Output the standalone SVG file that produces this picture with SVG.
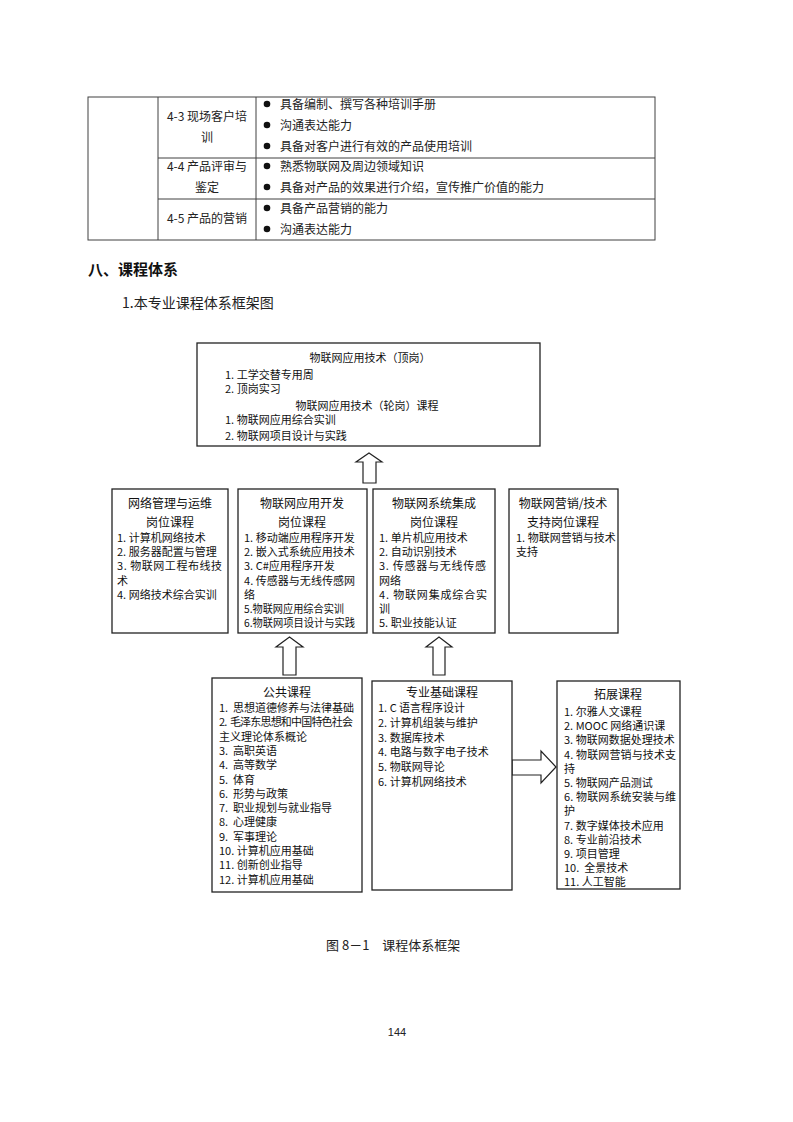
<svg xmlns="http://www.w3.org/2000/svg" width="793" height="1122" viewBox="0 0 793 1122">
<style>
.tbl{stroke:#404040;stroke-width:1;fill:none}
.t12{font-family:"Noto Sans CJK SC","Liberation Serif",serif;font-size:12px;fill:#222}
.h{font-family:"Noto Sans CJK SC","Liberation Sans",sans-serif;font-size:15px;font-weight:bold;fill:#111}
.p{font-family:"Noto Sans CJK SC","Liberation Serif",serif;font-size:14px;fill:#222}
.cap{font-family:"Noto Sans CJK SC","Liberation Serif",serif;font-size:13px;fill:#222;white-space:pre}
.box{fill:#fff;stroke:#222;stroke-width:1.3}
.t{font-family:"Noto Sans CJK SC","Liberation Sans",sans-serif;font-size:11px;fill:#111;white-space:pre}
.tt{font-family:"Noto Sans CJK SC","Liberation Sans",sans-serif;font-size:12px;fill:#111;text-anchor:middle}
.c{text-anchor:middle}
.arr{fill:#fff;stroke:#222;stroke-width:1.2;stroke-linejoin:miter}
.pg{font-family:"Liberation Sans",sans-serif;font-size:11px;fill:#222;text-anchor:middle}
</style>
<rect width="793" height="1122" fill="#fff"/>

<g id="table">
<rect class="tbl" x="88" y="97" width="567" height="143"/>
<line class="tbl" x1="158" y1="97" x2="158" y2="240"/>
<line class="tbl" x1="256" y1="97" x2="256" y2="240"/>
<line class="tbl" x1="158" y1="158" x2="655" y2="158" stroke-width="1.5"/>
<line class="tbl" x1="158" y1="199" x2="655" y2="199" stroke-width="1.5"/>
<text class="t12 c" x="207" y="120.5">4-3 现场客户培</text>
<text class="t12 c" x="207" y="141.5">训</text>
<text class="t12 c" x="207" y="170.5">4-4 产品评审与</text>
<text class="t12 c" x="207" y="191.5">鉴定</text>
<text class="t12 c" x="207" y="222.5">4-5 产品的营销</text>
<g fill="#111">
<circle cx="267" cy="104" r="3.3"/><circle cx="267" cy="125" r="3.3"/><circle cx="267" cy="146" r="3.3"/>
<circle cx="267" cy="166" r="3.3"/><circle cx="267" cy="187" r="3.3"/>
<circle cx="267" cy="208" r="3.3"/><circle cx="267" cy="229" r="3.3"/>
</g>
<text class="t12" x="280" y="108.5">具备编制、撰写各种培训手册</text>
<text class="t12" x="280" y="129.5">沟通表达能力</text>
<text class="t12" x="280" y="150.5">具备对客户进行有效的产品使用培训</text>
<text class="t12" x="280" y="170.5">熟悉物联网及周边领域知识</text>
<text class="t12" x="280" y="191.5">具备对产品的效果进行介绍，宣传推广价值的能力</text>
<text class="t12" x="280" y="212.5">具备产品营销的能力</text>
<text class="t12" x="280" y="233.5">沟通表达能力</text>
</g>

<g id="heading">
<text class="h" x="88" y="275">八、课程体系</text>
<text class="p" x="122" y="308">1.本专业课程体系框架图</text>
</g>

<g id="connectors">
<polygon class="arr" points="363,483 363,462 356,462 369,453 382,462 376,462 376,483"/>
<polygon class="arr" points="283,675 283,647 276,647 289.5,637 303,647 296,647 296,675"/>
<polygon class="arr" points="433,675 433,647 426,647 439,637 452,647 445,647 445,675"/>
<polygon class="arr" points="512,760 541,760 541,751 556,767 541,783 541,775 512,775"/>
</g>

<g id="node-top">
<rect class="box" x="197" y="343" width="343" height="103"/>
<text class="t c" x="370" y="362">物联网应用技术（顶岗）</text>
<text class="t" x="225" y="379">1. 工学交替专用周</text>
<text class="t" x="225" y="393">2. 顶岗实习</text>
<text class="t c" x="367" y="410">物联网应用技术（轮岗）课程</text>
<text class="t" x="225" y="424">1. 物联网应用综合实训</text>
<text class="t" x="225" y="440">2. 物联网项目设计与实践</text>
</g>

<g id="node-network">
<rect class="box" x="112" y="489" width="116" height="144"/>
<text class="tt" x="170" y="507.5">网络管理与运维</text>
<text class="tt" x="170" y="526.5">岗位课程</text>
<text class="t" x="117" y="542">1. 计算机网络技术</text>
<text class="t" x="117" y="556.2">2. 服务器配置与管理</text>
<text class="t" x="117" y="570.4" textLength="105" lengthAdjust="spacing">3. 物联网工程布线技</text>
<text class="t" x="117" y="584.6">术</text>
<text class="t" x="117" y="598.8">4. 网络技术综合实训</text>
</g>

<g id="node-appdev">
<rect class="box" x="238" y="489" width="129" height="144"/>
<text class="tt" x="302" y="507.5">物联网应用开发</text>
<text class="tt" x="302" y="526.5">岗位课程</text>
<text class="t" x="244" y="542">1. 移动端应用程序开发</text>
<text class="t" x="244" y="556.2">2. 嵌入式系统应用技术</text>
<text class="t" x="244" y="570.4">3. C#应用程序开发</text>
<text class="t" x="244" y="584.6" textLength="111" lengthAdjust="spacing">4. 传感器与无线传感网</text>
<text class="t" x="244" y="598.8">络</text>
<text class="t" x="244" y="613" textLength="100" lengthAdjust="spacingAndGlyphs">5.物联网应用综合实训</text>
<text class="t" x="244" y="627.2" textLength="111" lengthAdjust="spacingAndGlyphs">6.物联网项目设计与实践</text>
</g>

<g id="node-integration">
<rect class="box" x="373" y="489" width="122" height="144"/>
<text class="tt" x="434" y="507.5">物联网系统集成</text>
<text class="tt" x="434" y="526.5">岗位课程</text>
<text class="t" x="379" y="542">1. 单片机应用技术</text>
<text class="t" x="379" y="556.2">2. 自动识别技术</text>
<text class="t" x="379" y="570.4" textLength="107" lengthAdjust="spacing">3. 传感器与无线传感</text>
<text class="t" x="379" y="584.6">网络</text>
<text class="t" x="379" y="598.8" textLength="108" lengthAdjust="spacing">4. 物联网集成综合实</text>
<text class="t" x="379" y="613">训</text>
<text class="t" x="379" y="627.2">5. 职业技能认证</text>
</g>

<g id="node-marketing">
<rect class="box" x="509" y="489" width="109" height="144"/>
<text class="tt" x="563" y="507.5">物联网营销/技术</text>
<text class="tt" x="563" y="526.5">支持岗位课程</text>
<text class="t" x="516" y="542">1. 物联网营销与技术</text>
<text class="t" x="516" y="556.2">支持</text>
</g>

<g id="node-public">
<rect class="box" x="212" y="678" width="150" height="214"/>
<text class="tt" x="287" y="697">公共课程</text>
<text class="t" x="219" y="712" xml:space="preserve">1.  思想道德修养与法律基础</text>
<text class="t" x="219" y="726.3" textLength="134" lengthAdjust="spacing" xml:space="preserve">2.  毛泽东思想和中国特色社会</text>
<text class="t" x="219" y="740.6">主义理论体系概论</text>
<text class="t" x="219" y="754.9" xml:space="preserve">3.  高职英语</text>
<text class="t" x="219" y="769.2" xml:space="preserve">4.  高等数学</text>
<text class="t" x="219" y="783.5" xml:space="preserve">5.  体育</text>
<text class="t" x="219" y="797.8" xml:space="preserve">6.  形势与政策</text>
<text class="t" x="219" y="812.1" xml:space="preserve">7.  职业规划与就业指导</text>
<text class="t" x="219" y="826.4" xml:space="preserve">8.  心理健康</text>
<text class="t" x="219" y="840.7" xml:space="preserve">9.  军事理论</text>
<text class="t" x="219" y="855">10. 计算机应用基础</text>
<text class="t" x="219" y="869.3">11. 创新创业指导</text>
<text class="t" x="219" y="883.6">12. 计算机应用基础</text>
</g>

<g id="node-foundation">
<rect class="box" x="372" y="681" width="140" height="209"/>
<text class="tt" x="442" y="697">专业基础课程</text>
<text class="t" x="378" y="712">1. C 语言程序设计</text>
<text class="t" x="378" y="726.8">2. 计算机组装与维护</text>
<text class="t" x="378" y="741.6">3. 数据库技术</text>
<text class="t" x="378" y="756.4">4. 电路与数字电子技术</text>
<text class="t" x="378" y="771.2">5. 物联网导论</text>
<text class="t" x="378" y="786">6. 计算机网络技术</text>
</g>

<g id="node-extension">
<rect class="box" x="557" y="681" width="123" height="208"/>
<text class="tt" x="618" y="699">拓展课程</text>
<text class="t" x="564" y="716">1. 尔雅人文课程</text>
<text class="t" x="564" y="730.2">2. MOOC 网络通识课</text>
<text class="t" x="564" y="744.4">3. 物联网数据处理技术</text>
<text class="t" x="564" y="758.6" textLength="112" lengthAdjust="spacing">4. 物联网营销与技术支</text>
<text class="t" x="564" y="772.8">持</text>
<text class="t" x="564" y="787">5. 物联网产品测试</text>
<text class="t" x="564" y="801.2" textLength="112" lengthAdjust="spacing">6. 物联网系统安装与维</text>
<text class="t" x="564" y="815.4">护</text>
<text class="t" x="564" y="829.6">7. 数字媒体技术应用</text>
<text class="t" x="564" y="843.8">8. 专业前沿技术</text>
<text class="t" x="564" y="858">9. 项目管理</text>
<text class="t" x="564" y="872.2" xml:space="preserve">10.  全景技术</text>
<text class="t" x="564" y="886.4">11. 人工智能</text>
</g>

<g id="caption">
<text class="cap" x="326" y="950">图 8－1　课程体系框架</text>
<text class="pg" x="397" y="1036">144</text>
</g>
</svg>
